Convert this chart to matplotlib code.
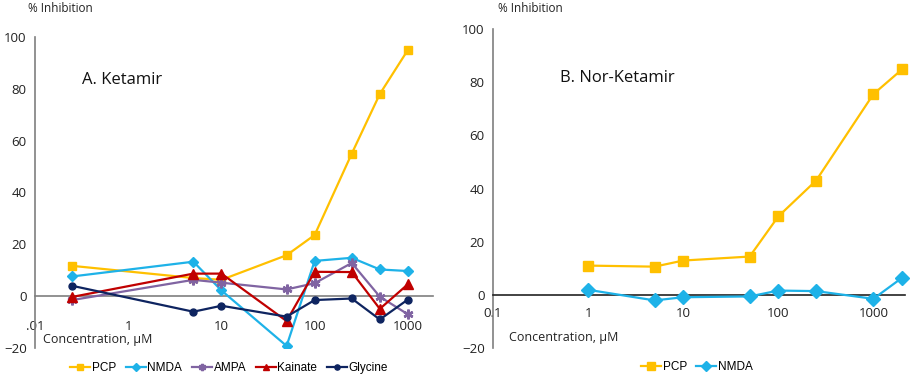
import matplotlib
matplotlib.use('Agg')
import matplotlib.pyplot as plt

plt.rcParams['font.family'] = ['Open Sans', 'DejaVu Sans']

#data - left panel (Ketamir)
conc_a = [0.25, 5, 10, 50, 100, 250, 500, 1000]
pcp_a = [11.7, 7.0, 6.3, 15.8, 23.6, 55, 78, 95]
nmda_a = [7.6, 13.3, 2.2, -19.2, 13.6, 14.8, 10.3, 9.7]
ampa_a = [-1.5, 6.3, 5.2, 2.6, 5.0, 12.8, -0.2, -7.0]
kainate_a = [-0.3, 8.7, 8.7, -9.6, 9.4, 9.3, -4.9, 4.6]
glycine_a = [4.0, -6.0, -3.7, -7.9, -1.5, -0.9, -9.0, -1.3]

#data - right panel (Nor-Ketamir)
conc_b = [1, 5, 10, 50, 100, 250, 1000, 2000]
pcp_b = [11.0, 10.6, 12.9, 14.4, 29.5, 43, 75.5, 84.8]
nmda_b = [1.9, -2.1, -0.9, -0.6, 1.6, 1.4, -1.5, 6.4]

xticks = [0.1, 1, 10, 100, 1000]
xlabels_a = ['.01', '1', '10', '100', '1000']
xlabels_b = ['0.1', '1', '10', '100', '1000']
yticks = [-20, 0, 20, 40, 60, 80, 100]

c_pcp = '#FFC000'
c_nmda = '#1EB2E8'
c_ampa = '#8064A2'
c_kainate = '#C00000'
c_gly = '#0E2460'

W, H = 913, 385
fig = plt.figure(figsize=(W / 100, H / 100), dpi=100)

#axes placed from pixel boxes
ax1 = fig.add_axes([35 / W, (H - 348) / H, (433 - 35) / W, (348 - 37) / H])
ax2 = fig.add_axes([493 / W, (H - 348) / H, (905 - 493) / W, (348 - 29) / H])


def style(ax, xlim, labels, pad, zcol):
    ax.set_xscale('log')
    ax.set_xlim(*xlim)
    ax.set_ylim(-20, 100)
    ax.set_xticks(xticks)
    ax.set_xticklabels(labels)
    ax.minorticks_off()
    ax.set_yticks(yticks)
    ax.spines['top'].set_visible(False)
    ax.spines['right'].set_visible(False)
    ax.spines['bottom'].set_position(('data', 0))
    ax.spines['bottom'].set_color(zcol)
    ax.spines['bottom'].set_linewidth(1.2)
    ax.spines['left'].set_color('#7f7f7f')
    ax.spines['left'].set_linewidth(1.2)
    ax.tick_params(axis='x', length=0, pad=pad, labelsize=9.5, colors='#222222')
    ax.tick_params(axis='y', length=0, pad=6, labelsize=9.5, colors='#222222')
    ax.patch.set_alpha(0)


style(ax1, (0.1, 1860), xlabels_a, 17, '#7f7f7f')
style(ax2, (0.1, 2150), xlabels_b, 9, '#222222')

#left panel lines
ax1.plot(conc_a, pcp_a, color=c_pcp, lw=1.6, marker='s', ms=5.5, label='PCP', zorder=3)
ax1.plot(conc_a, nmda_a, color=c_nmda, lw=1.6, marker='D', ms=5, label='NMDA', zorder=3)
ax1.plot(conc_a, ampa_a, color=c_ampa, lw=1.6, marker=(6, 2, 0), ms=7, mew=1.8, label='AMPA', zorder=3)
ax1.plot(conc_a, kainate_a, color=c_kainate, lw=1.6, marker='^', ms=6.5, label='Kainate', zorder=3)
ax1.plot(conc_a, glycine_a, color=c_gly, lw=1.6, marker='o', ms=5, label='Glycine', zorder=3)

#right panel lines
ax2.plot(conc_b, pcp_b, color=c_pcp, lw=1.6, marker='s', ms=6.5, label='PCP', zorder=3, clip_on=False)
ax2.plot(conc_b, nmda_b, color=c_nmda, lw=1.6, marker='D', ms=7, label='NMDA', zorder=3, clip_on=False)

legfont = {'family': ['Liberation Sans', 'DejaVu Sans'], 'size': 8.5}
ax1.legend(loc='center', bbox_to_anchor=(229 / W, (H - 368) / H), bbox_transform=fig.transFigure,
           ncol=5, frameon=False, prop=legfont, handlelength=1.7, handletextpad=0.15,
           columnspacing=0.8, markerscale=0.75)
ax2.legend(loc='center', bbox_to_anchor=(697 / W, (H - 367) / H), bbox_transform=fig.transFigure,
           ncol=2, frameon=False, prop=legfont, handlelength=1.7, handletextpad=0.15,
           columnspacing=0.8, markerscale=0.8)

#texts
fig.text(28 / W, (H - 8) / H, '% Inhibition', fontsize=8.5, va='center', color='#222222')
fig.text(498 / W, (H - 8) / H, '% Inhibition', fontsize=8.5, va='center', color='#222222')
fig.text(43 / W, (H - 339) / H, 'Concentration, µM', fontsize=9, va='center', color='#222222')
fig.text(509 / W, (H - 337) / H, 'Concentration, µM', fontsize=9, va='center', color='#222222')
fig.text(82 / W, (H - 80) / H, 'A. Ketamir', fontsize=12, va='center', color='#111111')
fig.text(560 / W, (H - 78) / H, 'B. Nor-Ketamir', fontsize=12, va='center', color='#111111')

plt.savefig('out.png', dpi=100)
